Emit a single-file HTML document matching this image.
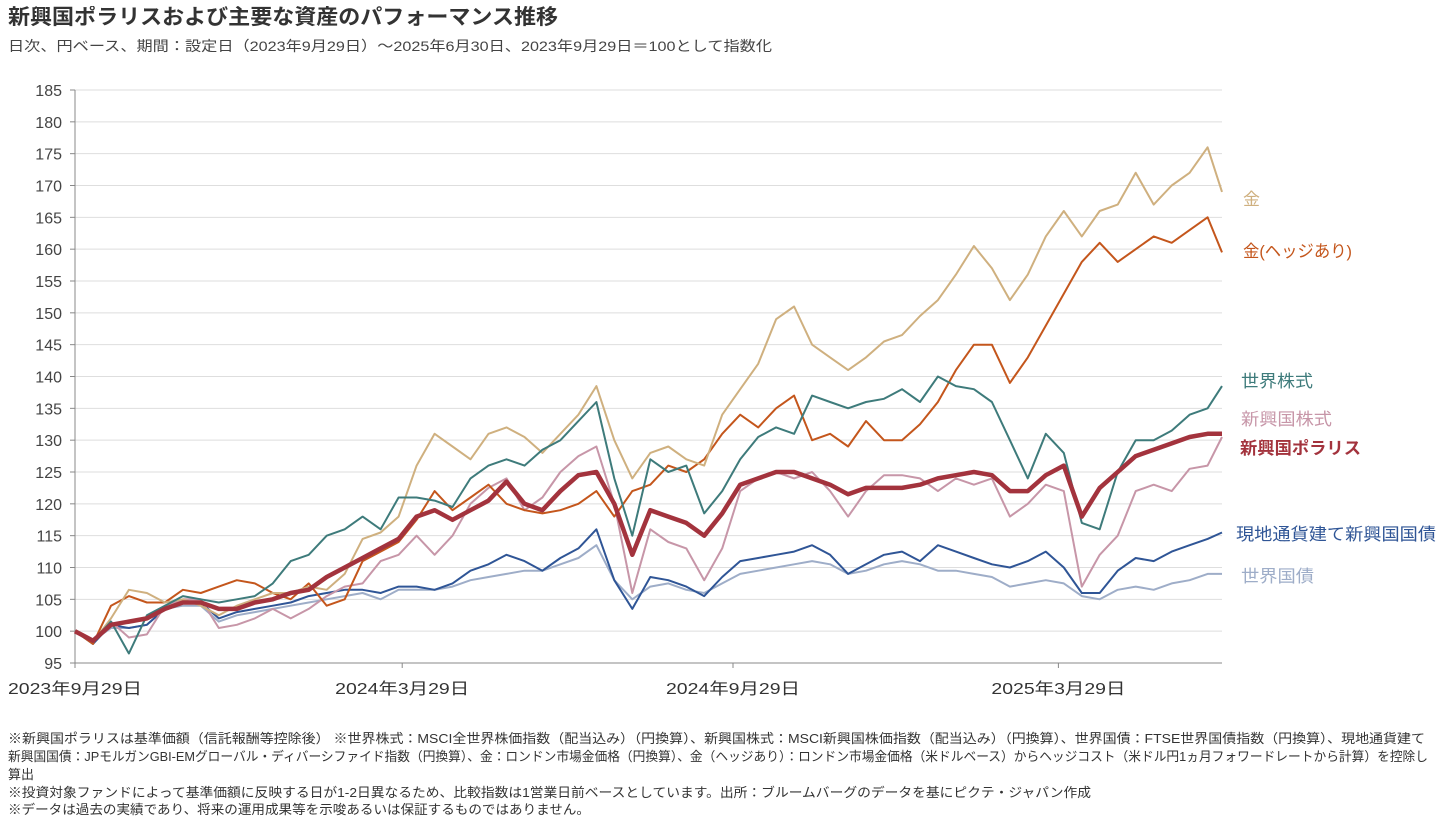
<!DOCTYPE html>
<html><head><meta charset="utf-8">
<style>
body{margin:0;width:1439px;height:823px;background:#fff;overflow:hidden;font-family:"Liberation Sans","Noto Sans CJK JP",sans-serif;color:#333;position:relative}
.t{position:absolute;white-space:nowrap;transform-origin:0 0;line-height:1}
</style></head><body>
<div class="t" data-w="550" style="left:8px;top:7px;font-size:21px;font-weight:bold;color:#333">新興国ポラリスおよび主要な資産のパフォーマンス推移</div>
<div class="t" data-w="764" style="left:8px;top:39px;font-size:14px;color:#444">日次、円ベース、期間：設定日（2023年9月29日）～2025年6月30日、2023年9月29日＝100として指数化</div>
<svg id="chart" width="1439" height="720" style="position:absolute;left:0;top:0"></svg>
<div class="t" data-w="1417" style="left:8px;top:732px;font-size:13px">※新興国ポラリスは基準価額（信託報酬等控除後） ※世界株式：MSCI全世界株価指数（配当込み）（円換算）、新興国株式：MSCI新興国株価指数（配当込み）（円換算）、世界国債：FTSE世界国債指数（円換算）、現地通貨建て</div>
<div class="t" data-w="1420" style="left:8px;top:750px;font-size:13px">新興国国債：JPモルガンGBI-EMグローバル・ディバーシファイド指数（円換算）、金：ロンドン市場金価格（円換算）、金（ヘッジあり）：ロンドン市場金価格（米ドルベース）からヘッジコスト（米ドル円1ヵ月フォワードレートから計算）を控除し</div>
<div class="t" style="left:8px;top:768px;font-size:13px">算出</div>
<div class="t" data-w="1083" style="left:8px;top:786px;font-size:13px">※投資対象ファンドによって基準価額に反映する日が1-2日異なるため、比較指数は1営業日前ベースとしています。出所：ブルームバーグのデータを基にピクテ・ジャパン作成</div>
<div class="t" data-w="582" style="left:8px;top:803px;font-size:13px">※データは過去の実績であり、将来の運用成果等を示唆あるいは保証するものではありません。</div>
<script>
const days=[0,10,20,30,40,50,60,70,80,90,100,110,120,130,140,150,160,170,180,190,200,210,220,230,240,250,260,270,280,290,300,310,320,330,340,350,360,370,380,390,400,410,420,430,440,450,460,470,480,490,500,510,520,530,540,550,560,570,580,590,600,610,620,630,638];
const gold=[100,98.3,102,106.5,106,104.5,105,104,102.5,104,105,106,106,107,106.5,109,114.5,115.5,118,126,131,129,127,131,132,130.5,128,131,134,138.5,130,124,128,129,127,126,134,138,142,149,151,145,143,141,143,145.5,146.5,149.5,152,156,160.5,157,152,156,162,166,162,166,167,172,167,170,172,176,169];
const goldHedged=[100,98,104,105.5,104.5,104.5,106.5,106,107,108,107.5,106,105,107.5,104,105,111,112.5,114,117.5,122,119,121,123,120,119,118.5,119,120,122,118,122,123,126,125,127,131,134,132,135,137,130,131,129,133,130,130,132.5,136,141,145,145,139,143,148,153,158,161,158,160,162,161,163,165,159.5];
const worldEq=[100,98.5,101.5,96.5,102.5,104,105.5,105,104.5,105,105.5,107.5,111,112,115,116,118,116,121,121,120.5,119.5,124,126,127,126,128.5,130,133,136,124,115,127,125,126,118.5,122,127,130.5,132,131,137,136,135,136,136.5,138,136,140,138.5,138,136,130,124,131,128,117,116,125,130,130,131.5,134,135,138.5];
const emEq=[100,98.5,101.5,99,99.5,104,105,105,100.5,101,102,103.5,102,103.5,105.5,107,107.5,111,112,115,112,115,120,122.5,124,119,121,125,127.5,129,120,106,116,114,113,108,113,122,124,125,124,125,122,118,122,124.5,124.5,124,122,124,123,124,118,120,123,122,107,112,115,122,123,122,125.5,126,130.5];
const polaris=[100,98.5,101,101.5,102,103.5,104.5,104.5,103.5,103.5,104.5,105,106,106.5,108.5,110,111.5,113,114.5,118,119,117.5,119,120.5,123.5,120,119,122,124.5,125,120,112,119,118,117,115,118.5,123,124,125,125,124,123,121.5,122.5,122.5,122.5,123,124,124.5,125,124.5,122,122,124.5,126,118,122.5,125,127.5,128.5,129.5,130.5,131,131];
const emBond=[100,98,101,100.5,101,103.5,104.5,104.5,102,103,103.5,104,104.5,105.5,106,106.5,106.5,106,107,107,106.5,107.5,109.5,110.5,112,111,109.5,111.5,113,116,108,103.5,108.5,108,107,105.5,108.5,111,111.5,112,112.5,113.5,112,109,110.5,112,112.5,111,113.5,112.5,111.5,110.5,110,111,112.5,110,106,106,109.5,111.5,111,112.5,113.5,114.5,115.5];
const worldBond=[100,98.5,100.5,100.5,101,103.5,104,104,101.5,102.5,103,103.5,104,104.5,105,105.5,106,105,106.5,106.5,106.5,107,108,108.5,109,109.5,109.5,110.5,111.5,113.5,108,105,107,107.5,106.5,106,107.5,109,109.5,110,110.5,111,110.5,109,109.5,110.5,111,110.5,109.5,109.5,109,108.5,107,107.5,108,107.5,105.5,105,106.5,107,106.5,107.5,108,109,109];
const yTicks=[95,100,105,110,115,120,125,130,135,140,145,150,155,160,165,170,175,180,185];
const xTickDays=[0,182,366,547];
const xTickLabels=["2023年9月29日","2024年3月29日","2024年9月29日","2025年3月29日"];
const seriesNames=["世界国債","現地通貨建て新興国国債","新興国株式","金(ヘッジあり)","金","世界株式","新興国ポラリス"];

const NS="http://www.w3.org/2000/svg";
const svg=document.getElementById('chart');
const X0=75,X1=1222,Y0=663,Y1=90;
const x=d=>X0+(d/638)*(X1-X0);
const y=v=>Y0-(v-95)/(185-95)*(Y0-Y1);
function mk(t,a){const e=document.createElementNS(NS,t);for(const k in a)e.setAttribute(k,a[k]);svg.appendChild(e);return e;}
yTicks.forEach(v=>{
  const g=mk('line',{x1:X0,x2:X1,y1:y(v),y2:y(v),stroke:v===95?'#888':'#dedede','stroke-width':1});
  
  
  const tk=mk('line',{x1:X0-5,x2:X0,y1:y(v),y2:y(v),stroke:'#888'});
  
  
  const t=mk('text',{x:X0-13,y:y(v)+6,'text-anchor':'end','font-size':16,fill:'#444','font-family':'"Liberation Sans Narrow","Liberation Sans",sans-serif'});
  t.textContent=v;
  
  
});
const ax=mk('line',{x1:X0,x2:X0,y1:Y1,y2:Y0,stroke:'#888'});


xTickDays.forEach((d,i)=>{
  const tk=mk('line',{x1:x(d),x2:x(d),y1:Y0,y2:Y0+5,stroke:'#888'});
  
  
  const t=mk('text',{x:x(d),y:Y0+31,'text-anchor':'middle','font-size':16,fill:'#333','font-family':'"Liberation Sans","Noto Sans CJK JP",sans-serif',textLength:134,lengthAdjust:'spacingAndGlyphs'});
  t.textContent=xTickLabels[i];
  
  
});
const seriesData=[worldBond,emBond,emEq,goldHedged,gold,worldEq,polaris];
const colors=['#9eadc8','#2f5596','#c796a8','#c4561c','#cfb07f','#3e7b7b','#a3333d'];
const widths=[2,2,2,2,2,2,4.5];
const keys=['world-bond','em-local-bond','em-equity','gold-hedged','gold','world-equity','em-polaris'];
seriesData.forEach((s,i)=>{
  const p=mk('polyline',{points:s.map((v,j)=>x(days[j]).toFixed(1)+','+y(v).toFixed(1)).join(' '),fill:'none',stroke:colors[i],'stroke-width':widths[i],'stroke-linejoin':'round'});
  
  
});
const legendY=[575,533,418,250,198,380,447];
const legendX=[1241,1236,1241,1243,1243,1241,1240];
const legendW=[73,200,91,109,17,72,121];
seriesNames.forEach((n,i)=>{
  const t=mk('text',{x:legendX[i],y:legendY[i]+7,'font-size':17,fill:colors[i],'font-weight':i===6?'bold':'normal','font-family':'"Liberation Sans","Noto Sans CJK JP",sans-serif',textLength:legendW[i],lengthAdjust:'spacingAndGlyphs'});
  t.textContent=n;
  
  
});
document.querySelectorAll('[data-w]').forEach(el=>{
  const w=el.getBoundingClientRect().width;
  el.style.transform='scaleX('+(parseFloat(el.dataset.w)/w)+')';
});
</script>
</body></html>
